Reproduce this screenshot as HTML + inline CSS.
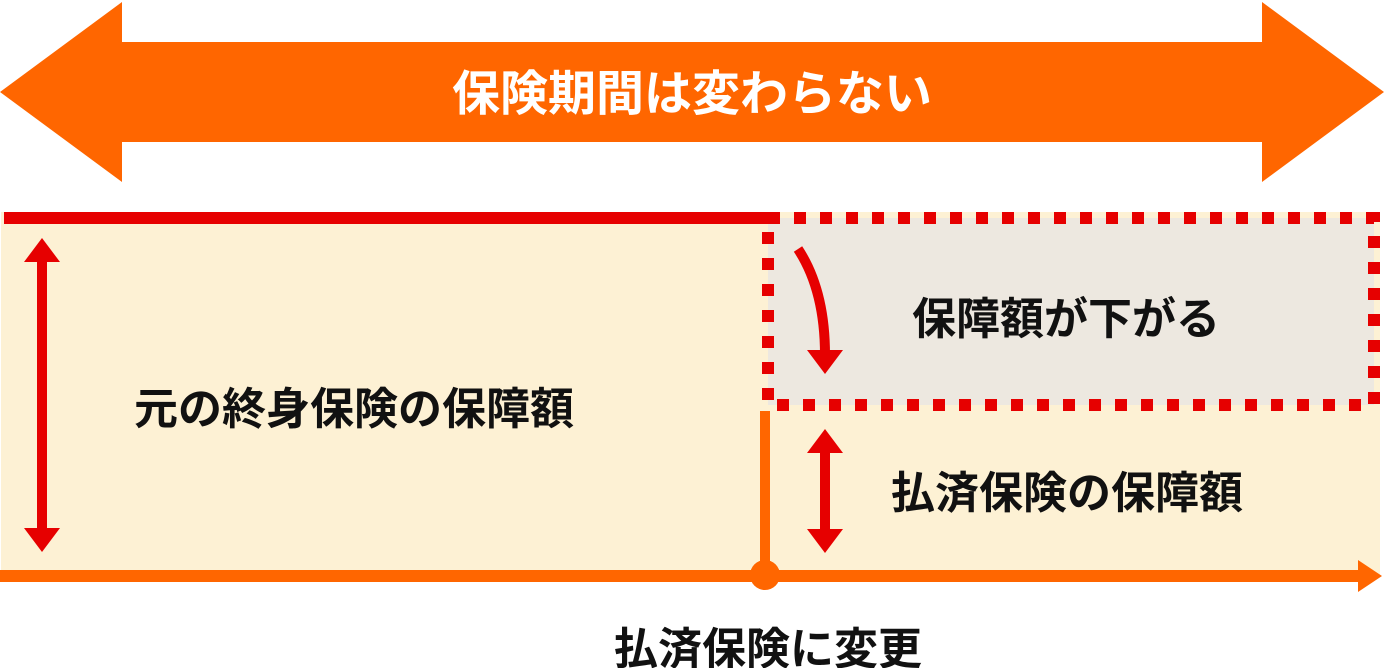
<!DOCTYPE html>
<html><head><meta charset="utf-8"><style>
html,body{margin:0;padding:0;background:#fff}
svg{display:block}
text{font-family:"Liberation Sans","Noto Sans CJK JP",sans-serif;font-weight:bold}
</style></head><body>
<svg width="1384" height="668" viewBox="0 0 1384 668" xmlns="http://www.w3.org/2000/svg">
<polygon points="0,92 122,2 122,42 1262,42 1262,2 1384,92 1262,182 1262,142 122,142 122,182" fill="#ff6600"/>
<text x="692" y="110" font-size="48" fill="#fff" text-anchor="middle">保険期間は変わらない</text>
<rect x="1" y="212" width="1379" height="364" fill="#fdf1d4"/>
<rect x="768" y="218" width="606" height="187" fill="#ede8e0"/>
<rect x="4" y="212" width="766" height="12" fill="#e60000"/>
<rect x="768" y="218" width="606" height="187" fill="none" stroke="#e60000" stroke-width="12" stroke-dasharray="12,14"/>
<rect x="760" y="411" width="10" height="165" fill="#ff6600"/>
<rect x="0" y="570" width="1362" height="12" fill="#ff6600"/>
<polygon points="1358,560 1382,576 1358,592" fill="#ff6600"/>
<circle cx="765" cy="575" r="15" fill="#ff6600"/>
<rect x="37" y="258" width="10" height="274" fill="#e60000"/>
<polygon points="42,238 24,262 60,262" fill="#e60000"/>
<polygon points="42,552 24,528 60,528" fill="#e60000"/>
<rect x="820" y="449" width="10" height="84" fill="#e60000"/>
<polygon points="825,429 807,453 843,453" fill="#e60000"/>
<polygon points="825,553 807,529 843,529" fill="#e60000"/>
<path d="M798,249 Q825,290 825,355" fill="none" stroke="#e60000" stroke-width="10"/>
<polygon points="807,350 843,350 825,374" fill="#e60000"/>
<text x="354" y="424" font-size="44" fill="#111" text-anchor="middle">元の終身保険の保障額</text>
<text x="1066" y="334" font-size="44" fill="#111" text-anchor="middle">保障額が下がる</text>
<text x="1067" y="508" font-size="44" fill="#111" text-anchor="middle">払済保険の保障額</text>
<text x="768" y="664" font-size="44" fill="#111" text-anchor="middle">払済保険に変更</text>
</svg>
</body></html>
